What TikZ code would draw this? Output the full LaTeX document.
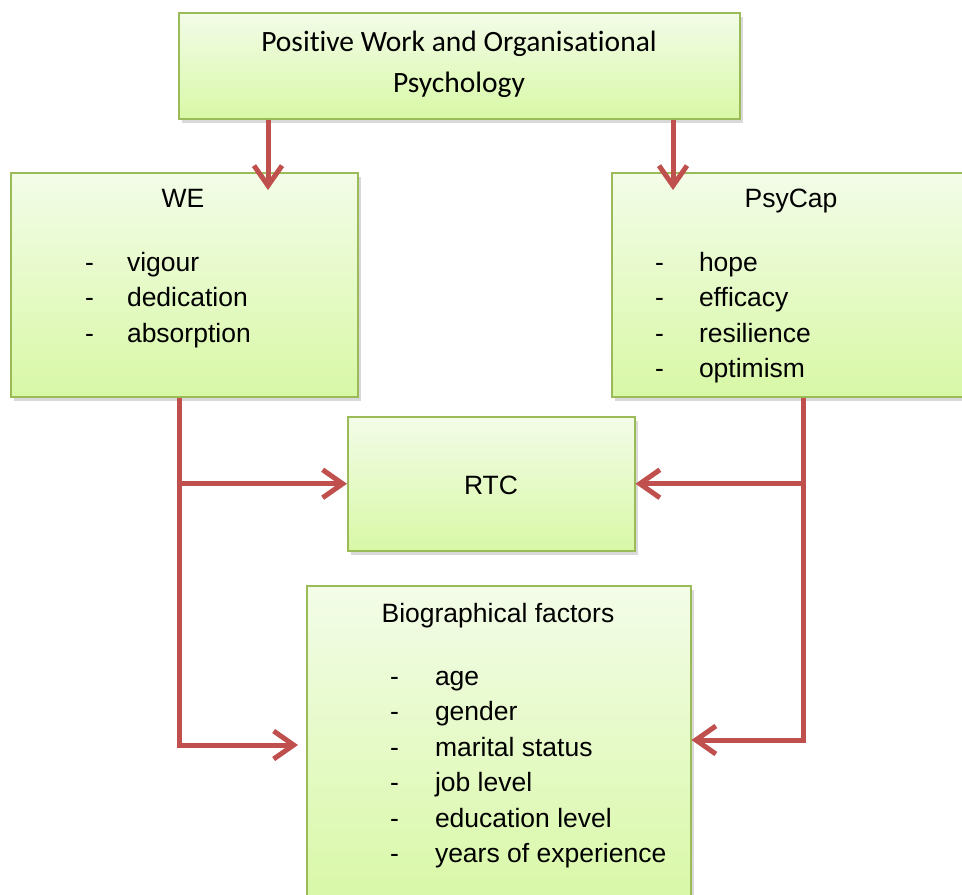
\documentclass[tikz,border=0pt]{standalone}
\usepackage{fontspec}
\setmainfont{Liberation Sans}
\newfontfamily\calibrifont[Ligatures=NoCommon]{Carlito}
\usetikzlibrary{arrows.meta, positioning, shadows}
\definecolor{boxline}{RGB}{155,187,89}
\definecolor{boxtop}{RGB}{243,252,232}
\definecolor{boxbottom}{RGB}{216,248,166}
\definecolor{arrowred}{RGB}{192,80,77}

\begin{document}
\begin{tikzpicture}[
  x=1pt, y=-1pt,
  box/.style={rectangle, draw=boxline, line width=1.5pt, top color=boxtop, bottom color=boxbottom, inner sep=0pt, anchor=north west,
    drop shadow={shadow xshift=3pt, shadow yshift=-4pt, opacity=0.3}},
  heading/.style={anchor=base, font=\fontsize{26.5}{35.5}\selectfont},
  items/.style={anchor=base west, inner sep=0pt, font=\fontsize{26.5}{35.5}\selectfont},
  arrow/.style={-{Straight Barb[length=20pt, width=28pt, line width=5pt]}, line width=5pt, arrowred},
]
\useasboundingbox (0,0) rectangle (962,895);

% Boxes
\node[box, minimum width=561pt, minimum height=106pt] (pwop) at (178,12) {};
\node[box, minimum width=347pt, minimum height=224pt] (we) at (10,172) {};
\node[box, minimum width=360pt, minimum height=224pt] (psycap) at (611,172) {};
\node[box, minimum width=287pt, minimum height=134pt] (rtc) at (347,416) {};
\node[box, minimum width=384pt, minimum height=320pt] (bio) at (306,585) {};

% Top box text
\node[anchor=center, align=center, font=\calibrifont\fontsize{29.5}{41}\selectfont] (pwoptext) at (459,64)
  {Positive Work and Organisational\\Psychology};

% WE
\node[heading] (wetitle) at (183,207) {WE};
\node[items] (welist) at (85,271) {\begin{tabular}[t]{@{}l@{\hspace{33pt}}l@{}}
  - & vigour\\
  - & dedication\\
  - & absorption
\end{tabular}};

% PsyCap
\node[heading] (psytitle) at (791,207) {PsyCap};
\node[items] (psylist) at (655,271) {\begin{tabular}[t]{@{}l@{\hspace{35pt}}l@{}}
  - & hope\\
  - & efficacy\\
  - & resilience\\
  - & optimism
\end{tabular}};

% RTC
\node[heading] (rtctitle) at (491,494) {RTC};

% Biographical factors
\node[heading] (biotitle) at (498,622) {Biographical factors};
\node[items] (biolist) at (390,685) {\begin{tabular}[t]{@{}l@{\hspace{36pt}}l@{}}
  - & age\\
  - & gender\\
  - & marital status\\
  - & job level\\
  - & education level\\
  - & years of experience
\end{tabular}};

% Arrow ends
\coordinate (weIn) at (268,190);
\coordinate (psyIn) at (673,190);
\coordinate (weLine) at (179,745);
\coordinate (psyLine) at (803,740);

% Arrows from top
\draw[arrow] (pwop.south -| weIn) -- (weIn);
\draw[arrow] (pwop.south -| psyIn) -- (psyIn);

% Arrows from WE
\draw[arrow] (we.south -| weLine) -- (weLine) -- ([xshift=-8pt]bio.west |- weLine);
\draw[arrow] (weLine |- rtc.west) -- (rtc.west);

% Arrows from PsyCap
\draw[arrow] (psycap.south -| psyLine) -- (psyLine) -- (bio.east |- psyLine);
\draw[arrow] (psyLine |- rtc.east) -- (rtc.east);

\end{tikzpicture}
\end{document}
